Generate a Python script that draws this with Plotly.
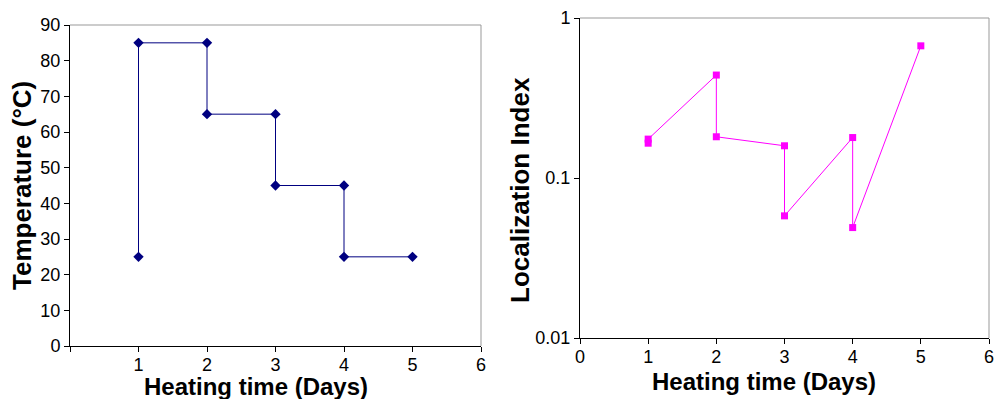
import plotly.graph_objects as go

# ---- data ----
temp_days = [1, 1, 2, 2, 3, 3, 4, 4, 5]
temp_values = [25, 85, 85, 65, 65, 45, 45, 25, 25]

loc_days = [1, 1, 2, 2, 3, 3, 4, 4, 5]
loc_values = [0.165, 0.175, 0.44, 0.181, 0.159, 0.058, 0.179, 0.049, 0.67]

x_ticks = [0, 1, 2, 3, 4, 5, 6]
left_x_ticktext = ["", "1", "2", "3", "4", "5", "6"]
right_x_ticktext = ["0", "1", "2", "3", "4", "5", "6"]
temp_ticks = [0, 10, 20, 30, 40, 50, 60, 70, 80, 90]
loc_ticks = [0.01, 0.1, 1]
loc_ticktext = ["0.01", "0.1", "1"]

FONT = "Arial, Liberation Sans, sans-serif"
W, H = 996, 399

fig = go.Figure()
fig.add_trace(go.Scatter(
    x=temp_days, y=temp_values, mode="lines+markers",
    line=dict(color="#000080", width=1),
    marker=dict(symbol="diamond", size=8, color="#000080"),
    xaxis="x", yaxis="y", showlegend=False, cliponaxis=False))
fig.add_trace(go.Scatter(
    x=loc_days, y=loc_values, mode="lines+markers",
    line=dict(color="#FF00FF", width=1),
    marker=dict(symbol="square", size=7, color="#FF00FF"),
    xaxis="x2", yaxis="y2", showlegend=False, cliponaxis=False))

axis_common = dict(showgrid=False, zeroline=False, showline=True, linecolor="black",
                   linewidth=1, ticks="outside", ticklen=5, tickcolor="black",
                   automargin=False,
                   tickfont=dict(family=FONT, size=18, color="black"))

# pixel layout
L1, R1, T1, B1 = 70, 481, 25, 346
L2, R2, T2, B2 = 580, 989, 18, 338

fig.update_layout(
    width=W, height=H, margin=dict(l=0, r=0, t=0, b=0),
    paper_bgcolor="white", plot_bgcolor="white",
    xaxis=dict(domain=[L1 / W, R1 / W], range=[0, 6], tickvals=x_ticks,
               ticktext=left_x_ticktext, anchor="y", ticklabelstandoff=-3, **axis_common),
    yaxis=dict(domain=[(H - B1) / H, (H - T1) / H], range=[0, 90], tickvals=temp_ticks,
               anchor="x", **axis_common),
    xaxis2=dict(domain=[L2 / W, R2 / W], range=[0, 6], tickvals=x_ticks,
                ticktext=right_x_ticktext, anchor="y2", ticklabelstandoff=-3, **axis_common),
    yaxis2=dict(domain=[(H - B2) / H, (H - T2) / H], type="log", range=[-2, 0],
                tickvals=loc_ticks, ticktext=loc_ticktext, anchor="x2", **axis_common),
)

# plot-area border (gray top/right)
for xr, yr in (("x", "y"), ("x2", "y2")):
    fig.add_shape(type="line", xref=f"{xr} domain", yref=f"{yr} domain",
                  x0=0, x1=1, y0=1, y1=1, line=dict(color="#999999", width=1), layer="below")
    fig.add_shape(type="line", xref=f"{xr} domain", yref=f"{yr} domain",
                  x0=1, x1=1, y0=0, y1=1, line=dict(color="#999999", width=1), layer="below")

xtitle_font = dict(family=FONT, size=24, color="black")
ytitle_font = dict(family=FONT, size=26, color="black")
fig.add_annotation(text="<b>Heating time (Days)</b>", xref="paper", yref="paper",
                   x=256 / W, y=(H - 386) / H, showarrow=False, font=xtitle_font,
                   xanchor="center", yanchor="middle", borderpad=0)
fig.add_annotation(text="<b>Heating time (Days)</b>", xref="paper", yref="paper",
                   x=764 / W, y=(H - 381) / H, showarrow=False, font=xtitle_font,
                   xanchor="center", yanchor="middle", borderpad=0)
fig.add_annotation(text="<b>Temperature (°C)</b>", xref="paper", yref="paper",
                   x=22 / W, y=(H - 186) / H, showarrow=False, font=ytitle_font,
                   textangle=-90, xanchor="center", yanchor="middle")
fig.add_annotation(text="<b>Localization Index</b>", xref="paper", yref="paper",
                   x=520 / W, y=(H - 190) / H, showarrow=False, font=ytitle_font,
                   textangle=-90, xanchor="center", yanchor="middle")

fig.write_html("out.html")
